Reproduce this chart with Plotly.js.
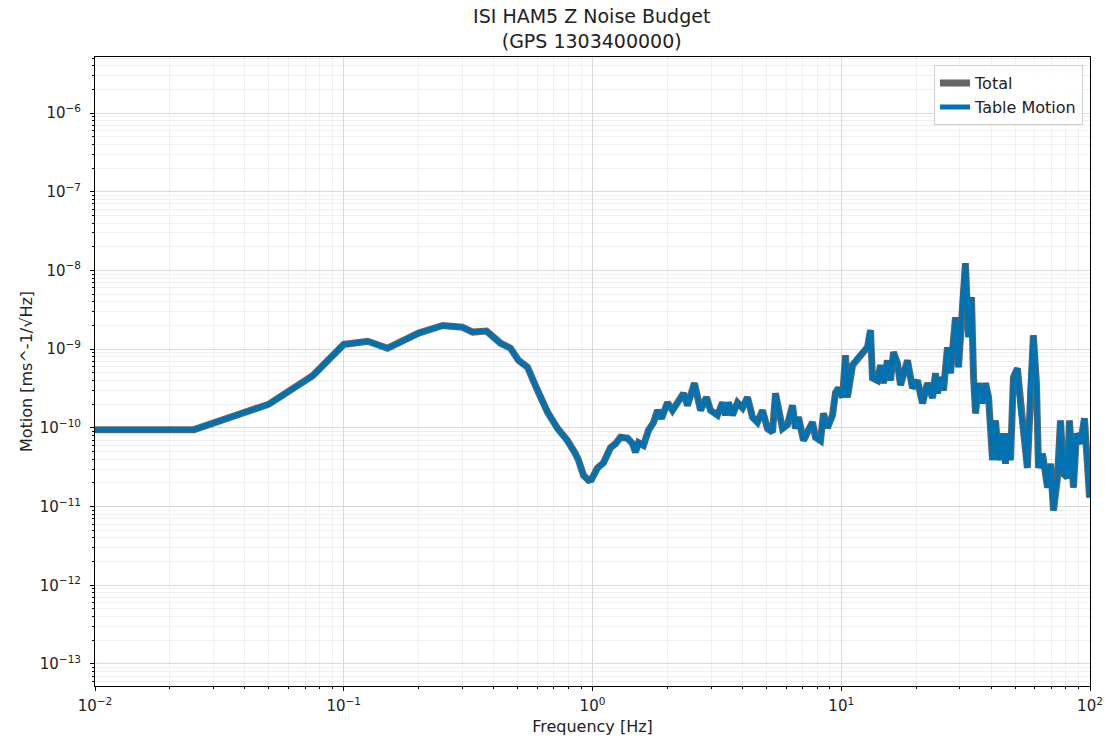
<!DOCTYPE html>
<html>
<head>
<meta charset="utf-8">
<script src="https://cdn.plot.ly/plotly-3.0.1.min.js"></script>
<style>html,body{margin:0;padding:0;background:#fff;}#chart{width:1105px;height:745px;}</style>
</head>
<body>
<div id="chart"></div>
<script>
const freq = [0.01, 0.025, 0.05, 0.075, 0.1, 0.125, 0.15, 0.2, 0.25, 0.3, 0.33, 0.375, 0.427, 0.468, 0.504, 0.548, 0.601, 0.66, 0.724, 0.793, 0.854, 0.878, 0.92, 0.964, 0.99,
  1.047, 1.107, 1.181, 1.237, 1.296, 1.382, 1.448, 1.489, 1.531, 1.603, 1.679, 1.759, 1.825, 1.894, 2.002, 2.097, 2.196, 2.322, 2.409, 2.570, 2.718, 2.873,
  2.981, 3.181, 3.332, 3.425, 3.521, 3.654, 3.827, 4.009, 4.199, 4.397, 4.605, 4.825, 5.052, 5.292, 5.441, 5.594, 5.804, 6.079, 6.368, 6.547, 6.731, 7.050,
  7.316, 7.661, 7.877, 8.251, 8.482, 8.802, 9.222, 9.482, 9.748, 10.12, 10.40, 10.59, 11.10, 11.62, 12.17, 12.75, 13.11, 13.35, 13.99, 14.38, 14.78, 15.34,
  15.78, 16.22, 16.83, 17.31, 18.46, 19.33, 20.26, 21.21, 22.22, 23.28, 23.93, 24.37, 25.06, 25.76, 26.73, 27.49, 28.79, 29.60, 30.71, 31.57, 32.46, 33.38,
  34.03, 34.67, 35.65, 36.99, 38.03, 39.10, 40.56, 41.70, 42.87, 44.48, 45.73, 46.6, 47.9, 49.23, 51.08, 52.52, 54.0, 56.0, 57.6, 59.2, 60.9, 62.1, 64.4,
  67.5, 69.4, 71.3, 74.0, 76.1, 78.2, 81.1, 82.7, 85.8, 88.2, 91.6, 95.0, 97.7, 99.6];
const tableMotion = [9.5e-11, 9.5e-11, 2.0e-10, 4.6e-10, 1.15e-9, 1.26e-9, 1.03e-9, 1.6e-9, 2.0e-9, 1.9e-9, 1.65e-9, 1.7e-9, 1.19e-9, 1.03e-9, 7.2e-10, 5.9e-10, 3.0e-10, 1.58e-10, 9.8e-11, 6.9e-11, 4.7e-11, 3.9e-11, 2.5e-11, 2.15e-11, 2.2e-11,
  3.1e-11, 3.6e-11, 5.6e-11, 6.3e-11, 7.6e-11, 7.4e-11, 6.3e-11, 4.9e-11, 6.5e-11, 6.0e-11, 9.3e-11, 1.17e-10, 1.67e-10, 1.32e-10, 2.1e-10, 1.67e-10, 2.1e-10, 2.75e-10, 1.93e-10, 3.7e-10, 1.67e-10, 2.45e-10,
  1.67e-10, 1.45e-10, 2.1e-10, 1.45e-10, 2.1e-10, 1.45e-10, 2.1e-10, 1.8e-10, 2.45e-10, 1.37e-10, 1.18e-10, 1.67e-10, 9.8e-11, 8.8e-11, 2.75e-10, 1.67e-10, 9.8e-11, 1.1e-10, 1.93e-10, 9.8e-11, 1.37e-10, 6.9e-11,
  9.3e-11, 1.18e-10, 7.6e-11, 6.9e-11, 1.53e-10, 1.0e-10, 1.45e-10, 2.8e-10, 3.2e-10, 2.45e-10, 8.4e-10, 2.45e-10, 6.25e-10, 7.7e-10, 8.9e-10, 1.06e-9, 1.75e-9, 4.3e-10, 4.0e-10, 6.25e-10, 3.7e-10, 7.2e-10,
  4.0e-10, 9.2e-10, 6.6e-10, 3.5e-10, 7.2e-10, 3.2e-10, 4.0e-10, 2.05e-10, 3.7e-10, 2.4e-10, 4.95e-10, 2.75e-10, 4.4e-10, 3.0e-10, 1.06e-9, 4.95e-10, 2.55e-9, 5.9e-10, 4.2e-9, 1.24e-8, 1.42e-9, 4.6e-9,
  4.4e-10, 1.53e-10, 3.7e-10, 2.05e-10, 3.7e-10, 2.45e-10, 3.9e-11, 1.24e-10, 3.9e-11, 8.5e-11, 3.5e-11, 8.5e-11, 3.9e-11, 4.4e-10, 5.7e-10, 1.67e-10, 9.3e-11, 3.1e-11, 3.7e-10, 1.5e-9, 3.7e-10, 3.1e-11, 4.7e-11,
  1.74e-11, 3.5e-11, 8.9e-12, 2.35e-11, 1.24e-10, 2.6e-11, 2.35e-11, 1.24e-10, 1.74e-11, 8.5e-11, 6.3e-11, 1.32e-10, 2.6e-11, 1.3e-11];
const total = tableMotion.slice();
const seriesNames = ['Total', 'Table Motion'];
const titleLines = ['ISI HAM5 Z Noise Budget', '(GPS 1303400000)'];
const xTickVals = [0.01, 0.1, 1, 10, 100];
const xTickText = ['10<sup>−2</sup>', '10<sup>−1</sup>', '10<sup>0</sup>', '10<sup>1</sup>', '10<sup>2</sup>'];
const yTickVals = [1e-13, 1e-12, 1e-11, 1e-10, 1e-9, 1e-8, 1e-7, 1e-6];
const yTickText = ['10<sup>−13</sup>', '10<sup>−12</sup>', '10<sup>−11</sup>', '10<sup>−10</sup>', '10<sup>−9</sup>', '10<sup>−8</sup>', '10<sup>−7</sup>', '10<sup>−6</sup>'];

const font = 'DejaVu Sans, sans-serif';
const traces = [
  {x: freq, y: total, name: seriesNames[0], mode: 'lines', line: {color: '#666666', width: 7}},
  {x: freq, y: tableMotion, name: seriesNames[1], mode: 'lines', line: {color: '#0072b2', width: 5}}
];
const axisCommon = {
  type: 'log', showline: true, linecolor: '#000', linewidth: 1, mirror: true,
  ticks: 'outside', ticklen: 4, tickcolor: '#000', tickwidth: 1,
  showgrid: true, gridcolor: '#d9d9d9', gridwidth: 1, zeroline: false,
  tickmode: 'array',
  tickfont: {family: font, size: 15, color: '#222'},
  minor: {showgrid: true, gridcolor: '#efefef', gridwidth: 1, ticks: 'outside', ticklen: 2, tickcolor: '#000', dtick: 'D1'}
};
const layout = {
  width: 1105, height: 745,
  margin: {l: 95, r: 15, t: 57, b: 59},
  paper_bgcolor: '#fff', plot_bgcolor: '#fff',
  title: {text: titleLines.join('<br>'), font: {family: font, size: 19, color: '#222'}, x: 0.5355, xanchor: 'center', xref: 'container', y: 1, yref: 'container', yanchor: 'top', pad: {t: 23}},
  xaxis: Object.assign({}, axisCommon, {range: [-2, 2], tickvals: xTickVals, ticktext: xTickText, ticklabelstandoff: 2,
    title: {text: 'Frequency [Hz]', font: {family: font, size: 16, color: '#222'}, standoff: 6}}),
  yaxis: Object.assign({}, axisCommon, {range: [-13.28, -5.287], tickvals: yTickVals, ticktext: yTickText, ticklabelstandoff: 6,
    title: {text: 'Motion [ms^-1/√Hz]', font: {family: font, size: 16, color: '#222'}, standoff: 3}}),
  showlegend: true,
  legend: {x: 0.993, y: 0.987, xanchor: 'right', yanchor: 'top', bgcolor: 'rgba(255,255,255,0.85)', bordercolor: '#d0d0d0', borderwidth: 1, font: {family: font, size: 16, color: '#222'}, tracegroupgap: 0}
};
Plotly.newPlot('chart', traces, layout, {displayModeBar: false, staticPlot: true});
</script>
</body>
</html>
